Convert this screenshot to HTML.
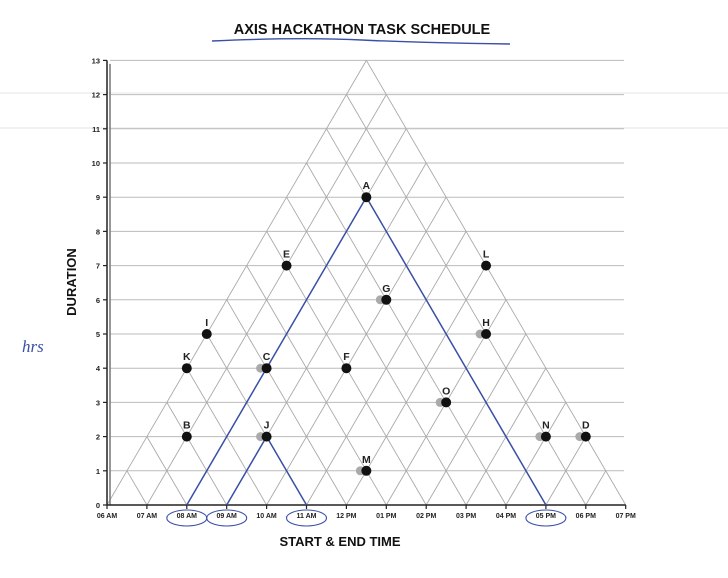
<!DOCTYPE html>
<html><head><meta charset="utf-8"><style>
body{margin:0;background:#fff;}
svg{display:block;font-family:"Liberation Sans",Arial,sans-serif;}
</style></head><body>
<svg id="chart" width="728" height="578" viewBox="0 0 728 578">
<g id="bg"></g>
<text x="362" y="34" text-anchor="middle" font-size="14.5" font-weight="bold" fill="#111">AXIS HACKATHON TASK SCHEDULE</text>
<path d="M212 41 Q300 37 362 40 T510 44" stroke="#3a4fa8" stroke-width="1.4" fill="none"/>
<text x="76" y="282" transform="rotate(-90 76 282)" text-anchor="middle" font-size="13" font-weight="bold" fill="#111">DURATION</text>
<text x="340" y="546" text-anchor="middle" font-size="13" font-weight="bold" fill="#111">START &amp; END TIME</text>
<text x="22" y="352" font-size="17" fill="#3a4fa8" font-style="italic" font-family="'Liberation Serif',serif">hrs</text>
<g id="grid"></g><g id="axes"></g><g id="marks"></g>
</svg>
<script>
const hourLabels=["06 AM","07 AM","08 AM","09 AM","10 AM","11 AM","12 PM","01 PM","02 PM","03 PM","04 PM","05 PM","06 PM","07 PM"];
const durationTicks=[0,1,2,3,4,5,6,7,8,9,10,11,12,13];
const taskNames=["A","B","C","D","E","F","G","H","I","J","K","L","M","N","O"];
const taskStart=[8,7,8,17,7,10,10,13,6,9,6,12,12,16,13];
const taskEnd=[17,9,12,19,14,14,16,18,11,11,10,19,13,18,16];
const ghostTasks=["C","D","G","H","J","M","N","O"];
const critPath1=[[8,8],[8,17],[17,17]];
const critPath2=[[9,9],[9,11],[11,11]];
const NS="http://www.w3.org/2000/svg";
const xs=h=>107+(h-6)*39.9, ys=d=>505-d*34.2;
function mk(tag,attrs,parent){const e=document.createElementNS(NS,tag);for(const k in attrs)e.setAttribute(k,attrs[k]);document.getElementById(parent).appendChild(e);return e;}
// scan artifact lines
[94,129].forEach(y=>{const l=mk('line',{x1:0,x2:728,y1:y-1,y2:y-1,stroke:'#e4e4e4','stroke-width':1},'bg');

});
// horizontal grid
durationTicks.slice(1).forEach(d=>{const l=mk('line',{x1:110,x2:624,y1:ys(d),y2:ys(d),stroke:'#bbb','stroke-width':1},'grid');

});
// diagonal grid
for(let s=6;s<=19;s++){
 const a=mk('line',{x1:xs(s),y1:ys(0),x2:xs((s+19)/2),y2:ys(19-s),stroke:'#aaa','stroke-width':0.9},'grid');
 
 
 const b=mk('line',{x1:xs(s),y1:ys(0),x2:xs((6+s)/2),y2:ys(s-6),stroke:'#aaa','stroke-width':0.9},'grid');
 
 
}
// axes
let ax=mk('line',{x1:107,x2:107,y1:ys(13),y2:ys(0),stroke:'#222','stroke-width':1.5},'axes');

ax=mk('line',{x1:110,x2:110,y1:ys(12.9),y2:ys(0),stroke:'#777','stroke-width':1.5},'axes');

ax=mk('line',{x1:107,x2:xs(19),y1:ys(0),y2:ys(0),stroke:'#222','stroke-width':1.5},'axes');

durationTicks.forEach(d=>{
 const t=mk('line',{x1:103,x2:107,y1:ys(d),y2:ys(d),stroke:'#222','stroke-width':1.2},'axes');
 
 const tx=mk('text',{x:100,y:ys(d)+3,'text-anchor':'end','font-size':7.5,'font-weight':'bold',fill:'#222'},'axes');
 tx.textContent=d;
});
hourLabels.forEach((lab,i)=>{
 const x=xs(6+i);
 const t=mk('line',{x1:x,x2:x,y1:ys(0),y2:ys(0)+4,stroke:'#222','stroke-width':1.2},'axes');
 
 const tx=mk('text',{x:x,y:518,'text-anchor':'middle','font-size':7,'font-weight':'bold',fill:'#222'},'axes');
 tx.textContent=lab;
});
// critical paths (hand drawn)
[critPath1,critPath2].forEach(p=>{
 const pts=p.map(([s,e])=>xs((s+e)/2)+','+ys(e-s)).join(' ');
 const l=mk('polyline',{points:pts,fill:'none',stroke:'#3a4fa8','stroke-width':1.5},'marks');
 
});
// circled labels
[8,9,11,17].forEach(h=>{
 const c=mk('ellipse',{cx:xs(h),cy:518,rx:20,ry:8,fill:'none',stroke:'#3a4fa8','stroke-width':1.1},'marks');
 
});
// tasks
taskNames.forEach((n,i)=>{
 const x=xs((taskStart[i]+taskEnd[i])/2), y=ys(taskEnd[i]-taskStart[i]);
 if(ghostTasks.includes(n)){
  const g=mk('circle',{cx:x-6,cy:y,r:4.5,fill:'#aaa'},'marks');
  
 }
 const c=mk('circle',{cx:x,cy:y,r:5,fill:'#111'},'marks');
 
 
 const t=mk('text',{x:x,y:y-8,'text-anchor':'middle','font-size':10.5,'font-weight':'bold',fill:'#222'},'marks');
 t.textContent=n;
 
 
});
</script>
</body></html>
